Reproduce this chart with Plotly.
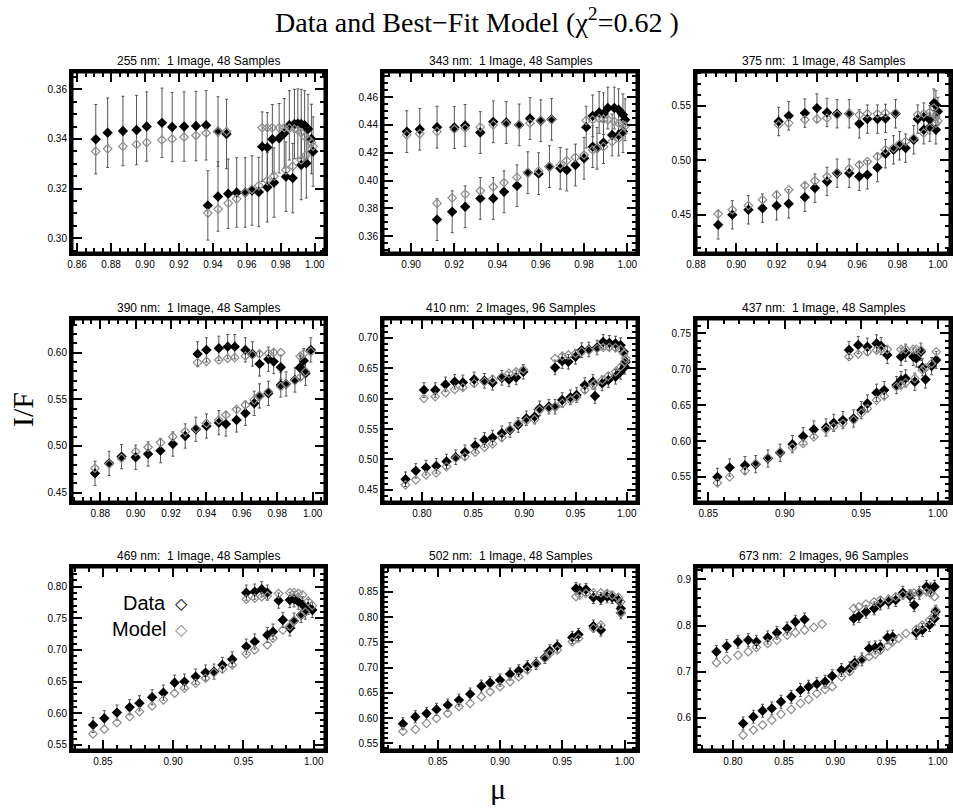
import plotly.graph_objects as go
from plotly.subplots import make_subplots

titles = ["255 nm:  1 Image, 48 Samples", "343 nm:  1 Image, 48 Samples", "375 nm:  1 Image, 48 Samples",
          "390 nm:  1 Image, 48 Samples", "410 nm:  2 Images, 96 Samples", "437 nm:  1 Image, 48 Samples",
          "469 nm:  1 Image, 48 Samples", "502 nm:  1 Image, 48 Samples", "673 nm:  2 Images, 96 Samples"]

mu_255 = [0.871, 0.878, 0.887, 0.895, 0.901, 0.910, 0.916, 0.923, 0.930, 0.936, 0.943, 0.948,
          0.969, 0.972, 0.975, 0.979, 0.982, 0.985, 0.988, 0.990, 0.992, 0.994, 0.996, 0.998,
          0.999, 0.995, 0.992, 0.987, 0.983, 0.976, 0.972, 0.967, 0.963, 0.959, 0.954, 0.949, 0.943, 0.937]
data_255 = [0.3399, 0.3425, 0.3432, 0.3436, 0.3450, 0.3465, 0.3448, 0.3450, 0.3452, 0.3455, 0.3430, 0.3420,
            0.3369, 0.3366, 0.3399, 0.3403, 0.3423, 0.3455, 0.3460, 0.3462, 0.3460, 0.3455, 0.3440, 0.3400,
            0.3349, 0.3302, 0.3295, 0.3242, 0.3248, 0.3224, 0.3205, 0.3186, 0.3192, 0.3184, 0.3184, 0.3179, 0.3168, 0.3132]
model_255 = [0.3350, 0.3360, 0.3370, 0.3378, 0.3386, 0.3396, 0.3400, 0.3408, 0.3414, 0.3424, 0.3430, 0.3430,
             0.3445, 0.3445, 0.3445, 0.3445, 0.3445, 0.3443, 0.3440, 0.3435, 0.3425, 0.3410, 0.3400, 0.3385,
             0.3370, 0.3335, 0.3315, 0.3290, 0.3275, 0.3250, 0.3232, 0.3212, 0.3197, 0.3184, 0.3158, 0.3141, 0.3117, 0.3101]

mu_343 = [0.898, 0.904, 0.912, 0.920, 0.925, 0.932, 0.938, 0.944, 0.950, 0.955, 0.960, 0.965,
          0.981, 0.984, 0.987, 0.989, 0.991, 0.994, 0.996, 0.998, 0.999,
          0.998, 0.996, 0.993, 0.989, 0.986, 0.984, 0.980, 0.976, 0.972, 0.969, 0.964, 0.959,
          0.954, 0.949, 0.943, 0.938, 0.932, 0.925, 0.919, 0.912]
data_343 = [0.4352, 0.4369, 0.4384, 0.4381, 0.4396, 0.4345, 0.4422, 0.4417, 0.4400, 0.4446, 0.4430, 0.4440,
            0.4384, 0.4465, 0.4489, 0.4480, 0.4521, 0.4521, 0.4509, 0.4473, 0.4437,
            0.4352, 0.4328, 0.4328, 0.4273, 0.4232, 0.4244, 0.4160, 0.4112, 0.4076, 0.4088, 0.4100, 0.4050,
            0.4057, 0.3963, 0.3920, 0.3872, 0.3872, 0.3812, 0.3776, 0.3720]
model_343 = [0.4328, 0.4336, 0.4352, 0.4369, 0.4376, 0.4384, 0.4400, 0.4408, 0.4400, 0.4412, 0.4432, 0.4437,
             0.4432, 0.4437, 0.4444, 0.4441, 0.4437, 0.4425, 0.4412, 0.4400, 0.4393,
             0.4340, 0.4304, 0.4280, 0.4244, 0.4232, 0.4220, 0.4184, 0.4167, 0.4143, 0.4112, 0.4100, 0.4069,
             0.4057, 0.4023, 0.3985, 0.3956, 0.3927, 0.3903, 0.3876, 0.3836]

mu_375 = [0.921, 0.926, 0.934, 0.940, 0.945, 0.950, 0.956, 0.961, 0.965, 0.970, 0.974, 0.979,
          0.990, 0.993, 0.996, 0.998, 0.999, 1.000,
          0.999, 0.996, 0.993, 0.988, 0.984, 0.981, 0.978, 0.974, 0.970, 0.965, 0.961, 0.956,
          0.950, 0.945, 0.939, 0.934, 0.926, 0.920, 0.913, 0.906, 0.898, 0.891]
data_375 = [0.5356, 0.5408, 0.5433, 0.5479, 0.5439, 0.5427, 0.5427, 0.5335, 0.5378, 0.5378, 0.5384, 0.5427,
            0.5378, 0.5396, 0.5372, 0.5524, 0.5509, 0.5448,
            0.5280, 0.5304, 0.5280, 0.5188, 0.5112, 0.5133, 0.5096, 0.5060, 0.4934, 0.4867, 0.4852, 0.4882,
            0.4882, 0.4806, 0.4745, 0.4662, 0.4601, 0.4583, 0.4561, 0.4546, 0.4500, 0.4408]
model_375 = [0.5326, 0.5341, 0.5372, 0.5378, 0.5387, 0.5417, 0.5427, 0.5417, 0.5427, 0.5427, 0.5433, 0.5433,
             0.5417, 0.5427, 0.5440, 0.5480, 0.5400, 0.5360,
             0.5341, 0.5295, 0.5249, 0.5203, 0.5173, 0.5151, 0.5112, 0.5096, 0.5035, 0.4989, 0.4959, 0.4922,
             0.4888, 0.4852, 0.4812, 0.4769, 0.4730, 0.4683, 0.4638, 0.4585, 0.4546, 0.4509]

mu_390 = [0.935, 0.940, 0.947, 0.952, 0.956, 0.962, 0.966, 0.970, 0.975, 0.978, 0.982,
          0.993, 0.995, 0.999,
          0.996, 0.993, 0.990, 0.985, 0.982, 0.975, 0.970, 0.967, 0.962, 0.957, 0.951, 0.947,
          0.940, 0.934, 0.928, 0.921, 0.914, 0.907, 0.900, 0.892, 0.885, 0.877]
data_390 = [0.5986, 0.6029, 0.6046, 0.6064, 0.6064, 0.6029, 0.5986, 0.5879, 0.5929, 0.5904, 0.5843,
            0.5843, 0.5914, 0.6029,
            0.5779, 0.5832, 0.5707, 0.5664, 0.5654, 0.5564, 0.5536, 0.5457, 0.5350, 0.5279, 0.5236, 0.5250,
            0.5214, 0.5179, 0.5107, 0.5021, 0.4950, 0.4914, 0.4879, 0.4886, 0.4814, 0.4707]
model_390 = [0.5893, 0.5907, 0.5921, 0.5939, 0.5946, 0.5964, 0.5975, 0.5986, 0.5993, 0.6000, 0.6000,
             0.5960, 0.5990, 0.6010,
             0.5796, 0.5736, 0.5700, 0.5664, 0.5636, 0.5582, 0.5536, 0.5493, 0.5439, 0.5393, 0.5332, 0.5279,
             0.5243, 0.5189, 0.5154, 0.5100, 0.5036, 0.4986, 0.4939, 0.4868, 0.4807, 0.4761]

mu_410 = [0.802, 0.813, 0.823, 0.832, 0.840, 0.851, 0.861, 0.869, 0.878, 0.885, 0.892, 0.899,
          0.930, 0.937, 0.943, 0.950, 0.956, 0.963, 0.971, 0.977, 0.983, 0.989, 0.994, 0.997, 0.999,
          0.998, 0.994, 0.989, 0.982, 0.976, 0.969, 0.967, 0.959, 0.951, 0.945, 0.937, 0.930, 0.924,
          0.915, 0.910, 0.902, 0.894, 0.886, 0.878, 0.869, 0.861, 0.852, 0.842, 0.833, 0.824, 0.814,
          0.804, 0.794, 0.784]
data_410 = [0.6141, 0.6141, 0.6234, 0.6278, 0.6267, 0.6316, 0.6294, 0.6261, 0.6343, 0.6316, 0.6349, 0.6442,
            0.6513, 0.6617, 0.6606, 0.6688, 0.6798, 0.6809, 0.6841, 0.6934, 0.6918, 0.6907, 0.6880, 0.6770, 0.6606,
            0.6524, 0.6442, 0.6360, 0.6305, 0.6251, 0.6043, 0.6278, 0.6223, 0.6059, 0.6021, 0.5977, 0.5868, 0.5868,
            0.5840, 0.5704, 0.5676, 0.5567, 0.5485, 0.5430, 0.5359, 0.5321, 0.5228, 0.5118, 0.5036, 0.4965, 0.4894,
            0.4866, 0.4812, 0.4675]
model_410 = [0.6004, 0.6032, 0.6097, 0.6152, 0.6185, 0.6251, 0.6278, 0.6316, 0.6360, 0.6415, 0.6442, 0.6480,
             0.6661, 0.6699, 0.6716, 0.6743, 0.6770, 0.6798, 0.6825, 0.6841, 0.6841, 0.6836, 0.6809, 0.6743, 0.6661,
             0.6606, 0.6524, 0.6442, 0.6371, 0.6305, 0.6250, 0.6223, 0.6141, 0.6021, 0.5977, 0.5922, 0.5868, 0.5840,
             0.5813, 0.5660, 0.5638, 0.5594, 0.5496, 0.5359, 0.5255, 0.5200, 0.5118, 0.5047, 0.5020, 0.4883, 0.4780,
             0.4746, 0.4664, 0.4582]

mu_437 = [0.942, 0.948, 0.954, 0.960, 0.963, 0.967, 0.976, 0.979, 0.984, 0.986, 0.989,
          0.990, 0.992, 0.996, 0.999,
          0.985, 0.979, 0.976, 0.973, 0.965, 0.960, 0.954, 0.950, 0.945, 0.938, 0.932, 0.927,
          0.919, 0.912, 0.905, 0.897, 0.889, 0.881, 0.874, 0.864, 0.856]
data_437 = [0.7267, 0.7337, 0.7314, 0.7360, 0.7323, 0.7198, 0.7174, 0.7230, 0.7174, 0.7151, 0.7244,
            0.7026, 0.6858, 0.7044, 0.7128,
            0.6826, 0.6872, 0.6849, 0.6779, 0.6709, 0.6672, 0.6523, 0.6430, 0.6314, 0.6291, 0.6253, 0.6188,
            0.6160, 0.6067, 0.5956, 0.5835, 0.5756, 0.5677, 0.5663, 0.5630, 0.5500]
model_437 = [0.7174, 0.7212, 0.7244, 0.7267, 0.7277, 0.7277, 0.7277, 0.7277, 0.7277, 0.7277, 0.7267,
             0.6990, 0.7020, 0.7081, 0.7244,
             0.6872, 0.6812, 0.6779, 0.6756, 0.6626, 0.6570, 0.6453, 0.6384, 0.6291, 0.6244, 0.6198, 0.6160,
             0.6058, 0.5965, 0.5909, 0.5849, 0.5765, 0.5686, 0.5584, 0.5500, 0.5416]

mu_469 = [0.952, 0.958, 0.963, 0.967, 0.975, 0.983, 0.986, 0.989, 0.992,
          0.996, 0.999,
          0.994, 0.991, 0.986, 0.983, 0.978, 0.971, 0.967, 0.958, 0.952, 0.942, 0.935, 0.929,
          0.923, 0.916, 0.908, 0.901, 0.893, 0.885, 0.876, 0.869, 0.860, 0.851, 0.843]
data_469 = [0.7905, 0.7921, 0.7958, 0.7905, 0.7779, 0.7789, 0.7800, 0.7763, 0.7721,
            0.7680, 0.7632,
            0.7605, 0.7553, 0.7463, 0.7342, 0.7474, 0.7289, 0.7237, 0.7132, 0.7053, 0.6853, 0.6763, 0.6658,
            0.6642, 0.6579, 0.6500, 0.6484, 0.6326, 0.6253, 0.6158, 0.6095, 0.6011, 0.5921, 0.5816]
model_469 = [0.7800, 0.7816, 0.7842, 0.7853, 0.7890, 0.7905, 0.7905, 0.7895, 0.7870,
             0.7770, 0.7700,
             0.7600, 0.7553, 0.7463, 0.7379, 0.7316, 0.7184, 0.7079, 0.7000, 0.6937, 0.6763, 0.6695, 0.6642,
             0.6553, 0.6474, 0.6395, 0.6316, 0.6211, 0.6116, 0.6026, 0.5947, 0.5853, 0.5747, 0.5674]

mu_502 = [0.961, 0.964, 0.969, 0.975, 0.981, 0.986, 0.990, 0.995, 0.997,
          0.997, 0.981, 0.975, 0.963, 0.958, 0.946, 0.940, 0.936, 0.929, 0.922, 0.915, 0.908,
          0.900, 0.892, 0.885, 0.876, 0.867, 0.858, 0.849, 0.841, 0.832, 0.822]
data_502 = [0.8566, 0.8533, 0.8546, 0.8388, 0.8368, 0.8401, 0.8388, 0.8335, 0.8170,
            0.8085, 0.7742, 0.7821, 0.7656, 0.7597, 0.7425, 0.7333, 0.7201, 0.7082, 0.7016, 0.6937, 0.6871,
            0.6753, 0.6700, 0.6634, 0.6476, 0.6357, 0.6258, 0.6173, 0.6093, 0.6028, 0.5890]
model_502 = [0.8401, 0.8434, 0.8467, 0.8480, 0.8480, 0.8467, 0.8434, 0.8388, 0.8302,
             0.8085, 0.7841, 0.7775, 0.7577, 0.7511, 0.7346, 0.7280, 0.7181, 0.7069, 0.6950, 0.6819, 0.6720,
             0.6621, 0.6522, 0.6423, 0.6291, 0.6225, 0.6093, 0.5995, 0.5896, 0.5778, 0.5740]

mu_673 = [0.784, 0.794, 0.805, 0.815, 0.823, 0.834, 0.843, 0.853, 0.861, 0.870, 0.879, 0.887,
          0.918, 0.923, 0.930, 0.938, 0.944, 0.952, 0.959, 0.966, 0.973, 0.977, 0.982, 0.989, 0.993, 0.997,
          0.998, 0.997, 0.992, 0.985, 0.979, 0.969, 0.962, 0.956, 0.951, 0.944, 0.939, 0.933, 0.926, 0.919,
          0.914, 0.906, 0.897, 0.890, 0.882, 0.874, 0.866, 0.857, 0.847, 0.838, 0.829, 0.820, 0.810]
data_673 = [0.7431, 0.7554, 0.7648, 0.7684, 0.7648, 0.7742, 0.7843, 0.7937, 0.8082, 0.8133, None, None,
            0.8154, 0.8205, 0.8299, 0.8371, 0.8480, 0.8516, 0.8552, 0.8711, 0.8639, 0.8443, 0.8711, 0.8841, 0.8783, 0.8841,
            0.8299, 0.8154, 0.8010, 0.7901, 0.7843, None, None, 0.7757, 0.7742, 0.7540, 0.7525, 0.7504, 0.7265, 0.7193,
            0.7070, 0.7034, 0.6904, 0.6781, 0.6730, 0.6672, 0.6600, 0.6455, 0.6347, 0.6202, 0.6152, 0.6022, 0.5877]
model_673 = [0.7193, 0.7265, 0.7359, 0.7431, 0.7525, 0.7612, 0.7684, 0.7793, 0.7843, 0.7901, 0.7959, 0.8031,
             0.8371, 0.8407, 0.8465, 0.8516, 0.8552, 0.8566, 0.8624, 0.8660, 0.8696, 0.8705, 0.8711, 0.8733, 0.8696, 0.8624,
             0.8335, 0.8227, 0.8118, 0.8010, 0.7916, 0.7829, 0.7720, 0.7648, 0.7554, 0.7467, 0.7381, 0.7323, 0.7251, 0.7142,
             0.6998, 0.6889, 0.6672, 0.6614, 0.6528, 0.6398, 0.6311, 0.6181, 0.6079, 0.5949, 0.5841, 0.5733, 0.5624]

errors = [0.014, 0.015, 0.013, 0.013, 0.012, 0.012, 0.012, 0.012, 0.014]

panels = [(mu_255, data_255, model_255), (mu_343, data_343, model_343), (mu_375, data_375, model_375),
          (mu_390, data_390, model_390), (mu_410, data_410, model_410), (mu_437, data_437, model_437),
          (mu_469, data_469, model_469), (mu_502, data_502, model_502), (mu_673, data_673, model_673)]

# axis setup
x_ranges = [[0.857, 1.006], [0.887, 1.0045], [0.880, 1.006], [0.864, 1.007], [0.762, 1.010],
            [0.842, 1.008], [0.828, 1.008], [0.806, 1.010], [0.764, 1.012]]
y_ranges = [[0.294, 0.367], [0.348, 0.478], [0.415, 0.581], [0.440, 0.636], [0.430, 0.731],
            [0.515, 0.770], [0.542, 0.831], [0.537, 0.899], [0.530, 0.927]]
x_dticks = [0.02, 0.02, 0.02, 0.02, 0.05, 0.05, 0.05, 0.05, 0.05]
y_dticks = [0.02, 0.02, 0.05, 0.05, 0.05, 0.05, 0.05, 0.05, 0.1]

W, H = 953, 810
col_px = [(72, 325), (383, 637), (696, 950)]
row_px = [(72, 253), (319, 502), (567, 750)]

fig = make_subplots(rows=3, cols=3)

for i, (mu, dat, mod) in enumerate(panels):
    r, c = i // 3 + 1, i % 3 + 1
    fig.add_trace(go.Scatter(x=mu, y=dat, mode="markers",
                             marker=dict(symbol="diamond", size=8, color="black"),
                             error_y=dict(type="constant", value=errors[i], color="#555555",
                                          thickness=1, width=1.5),
                             showlegend=False), row=r, col=c)
    fig.add_trace(go.Scatter(x=mu, y=mod, mode="markers",
                             marker=dict(symbol="diamond-open", size=6.5, color="#8c8c8c",
                                         line=dict(width=1.2)),
                             showlegend=False), row=r, col=c)
    # heavy box round each panel
    fig.add_shape(type="rect", xref="x domain", yref="y domain", x0=0, x1=1, y0=0, y1=1,
                  line=dict(color="black", width=3), layer="above", row=r, col=c)

annotations = []
for i in range(9):
    r, c = i // 3, i % 3
    x0, x1 = col_px[c]
    y0, y1 = row_px[r]
    xd, yd = x_dticks[i], y_dticks[i]
    fig.update_xaxes(row=r + 1, col=c + 1, domain=[x0 / W, x1 / W], range=x_ranges[i],
                     tick0=0, dtick=xd, tickformat=".2f",
                     minor=dict(ticks="inside", ticklen=5, tickwidth=2, tickcolor="black",
                                dtick=xd / 4 if xd == 0.02 else xd / 5))
    fig.update_yaxes(row=r + 1, col=c + 1, domain=[1 - y1 / H, 1 - y0 / H], range=y_ranges[i],
                     tick0=0, dtick=yd, tickformat=".1f" if yd == 0.1 else ".2f",
                     minor=dict(ticks="inside", ticklen=5, tickwidth=2, tickcolor="black",
                                dtick=yd / 4 if yd == 0.02 else yd / 5))
    annotations.append(dict(text=titles[i].replace("  ", " \u00a0"), x=(x0 + x1) / 2 / W,
                            y=1 - (y0 - 11) / H, xanchor="center", yanchor="middle",
                            font=dict(family="Liberation Sans", size=12, color="black")))

# IDL-style inside ticks on all four sides
fig.update_xaxes(showline=True, linewidth=3, linecolor="black", mirror="ticks",
                 ticks="inside", ticklen=10, tickwidth=2, tickcolor="black",
                 showgrid=False, zeroline=False, automargin=False,
                 tickfont=dict(family="Liberation Sans", size=10, color="black"))
fig.update_yaxes(showline=True, linewidth=3, linecolor="black", mirror="ticks",
                 ticks="inside", ticklen=10, tickwidth=2, tickcolor="black",
                 showgrid=False, zeroline=False, automargin=False,
                 tickfont=dict(family="Liberation Sans", size=10, color="black"))

annotations += [
    dict(text="Data and Best\u2212Fit Model (\u03c7<sup>2</sup>=0.62 )", x=0.5, y=1 - 20 / H,
         xanchor="center", yanchor="middle",
         font=dict(family="Liberation Serif", size=28, color="black")),
    dict(text="I/F", x=22 / W, y=1 - 410 / H, textangle=-90, xanchor="center", yanchor="middle",
         font=dict(family="Liberation Serif", size=30, color="black")),
    dict(text="\u03bc", x=498 / W, y=1 - 788 / H, xanchor="center", yanchor="middle",
         font=dict(family="Liberation Serif", size=30, color="black")),
    dict(text="Data", x=168 / W, y=1 - 603 / H, xanchor="right", yanchor="middle",
         font=dict(family="Liberation Sans", size=20, color="black")),
    dict(text="Model", x=168 / W, y=1 - 629 / H, xanchor="right", yanchor="middle",
         font=dict(family="Liberation Sans", size=20, color="black")),
    dict(text="<b>\u25c7</b>", x=181 / W, y=1 - 603 / H, xanchor="center", yanchor="middle",
         font=dict(family="DejaVu Sans", size=16, color="black")),
    dict(text="\u25c7", x=181 / W, y=1 - 629 / H, xanchor="center", yanchor="middle",
         font=dict(family="DejaVu Sans", size=16, color="#8c8c8c")),
]
for a in annotations:
    a.setdefault("xref", "paper")
    a.setdefault("yref", "paper")
    a.setdefault("showarrow", False)

fig.update_layout(width=W, height=H, margin=dict(l=0, r=0, t=0, b=0),
                  paper_bgcolor="white", plot_bgcolor="white",
                  annotations=annotations, showlegend=False)

fig.write_html("out.html", config={"displayModeBar": False},
               post_script="document.body.style.margin='0';")
